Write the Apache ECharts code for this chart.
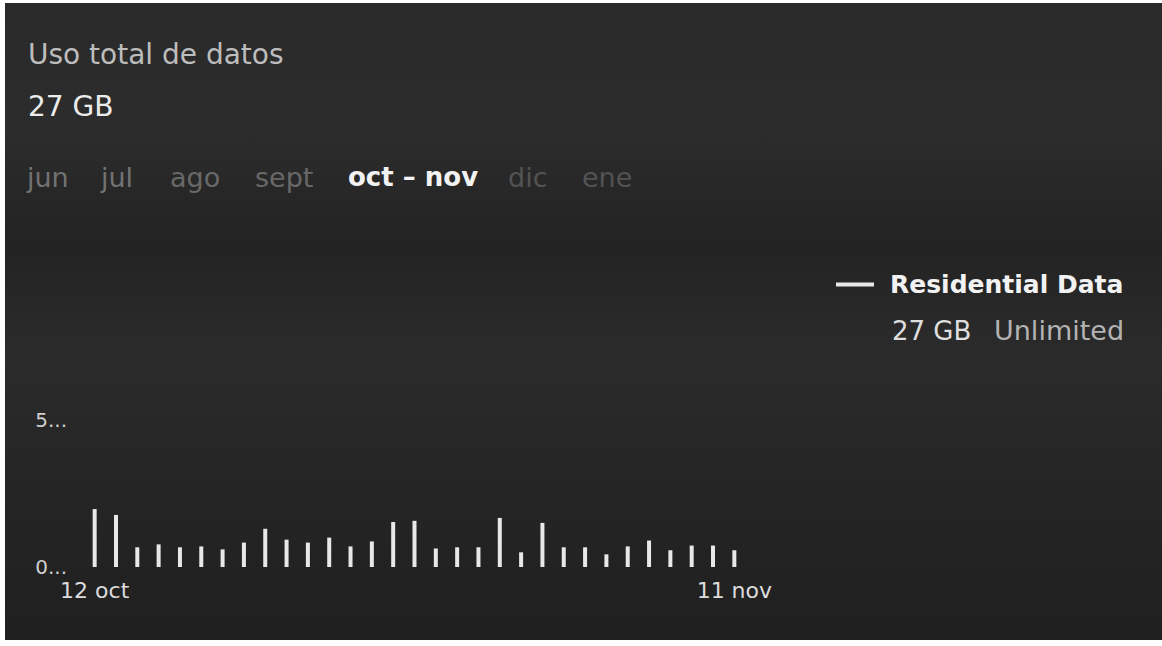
<!DOCTYPE html>
<html>
<head>
<meta charset="utf-8">
<script src="https://cdn.jsdelivr.net/npm/echarts@6/dist/echarts.min.js"></script>
<style>
  html, body { margin: 0; padding: 0; background: #ffffff; }
  #chart { width: 1162px; height: 646px; }
</style>
</head>
<body>
<div id="chart"></div>
<script>
// ---- data ----
const categories = [
  '12 oct','13 oct','14 oct','15 oct','16 oct','17 oct','18 oct','19 oct','20 oct','21 oct',
  '22 oct','23 oct','24 oct','25 oct','26 oct','27 oct','28 oct','29 oct','30 oct','31 oct',
  '1 nov','2 nov','3 nov','4 nov','5 nov','6 nov','7 nov','8 nov','9 nov','10 nov','11 nov'
];
const residentialData = [
  1.97, 1.77, 0.67, 0.77, 0.67, 0.70, 0.60, 0.83, 1.30, 0.93,
  0.83, 1.00, 0.70, 0.87, 1.53, 1.57, 0.63, 0.67, 0.67, 1.67,
  0.50, 1.50, 0.67, 0.67, 0.43, 0.70, 0.90, 0.57, 0.73, 0.73, 0.57
];
const yTickLabels = { 0: '0...', 5: '5...' };
const shownXLabels = ['12 oct', '11 nov'];
const monthTabs = ['jun', 'jul', 'ago', 'sept', 'oct – nov', 'dic', 'ene'];
const activeTab = 'oct – nov';
const titleText = 'Uso total de datos';
const totalText = '27 GB';
const seriesName = 'Residential Data';
const seriesTotal = '27 GB';
const seriesPlan = 'Unlimited';

// ---- layout / style ----
const FONT = 'DejaVu Sans';
const tabX = [27, 101, 170, 255, 348, 508, 582];
const tabColor = { 'jun': '#727272', 'jul': '#727272', 'ago': '#686868', 'sept': '#686868', 'dic': '#535353', 'ene': '#535353' };

const graphics = [
  {
    type: 'rect', z: -10, silent: true,
    shape: { x: 5, y: 3, width: 1157, height: 637 },
    style: {
      fill: {
        type: 'linear', x: 0, y: 0, x2: 0, y2: 1,
        colorStops: [
          { offset: 0.00, color: '#2a2a2a' },
          { offset: 0.20, color: '#2c2c2c' },
          { offset: 0.38, color: '#232323' },
          { offset: 0.55, color: '#2b2b2b' },
          { offset: 0.75, color: '#252525' },
          { offset: 1.00, color: '#202020' }
        ]
      }
    }
  },
  { type: 'text', left: 28, top: 40, style: { text: titleText, fill: '#bdbdbd', font: '28px "' + FONT + '"' } },
  { type: 'text', left: 28, top: 92, style: { text: totalText, fill: '#ececec', font: '28px "' + FONT + '"' } },
  { type: 'text', left: 892, top: 318, style: { text: seriesTotal, fill: '#dedede', font: '26px "' + FONT + '"' } },
  { type: 'text', left: 994, top: 317, style: { text: seriesPlan, fill: '#b3b3b3', font: '27px "' + FONT + '"' } }
];
monthTabs.forEach(function (m, i) {
  const active = m === activeTab;
  graphics.push({
    type: 'text', left: tabX[i], top: 164,
    style: {
      text: m,
      fill: active ? '#f2f2f2' : tabColor[m],
      font: (active ? 'bold 26px "' : '27px "') + FONT + '"'
    }
  });
});

const chart = echarts.init(document.getElementById('chart'), null, { renderer: 'svg' });
chart.setOption({
  backgroundColor: '#ffffff',
  animation: false,
  graphic: graphics,
  legend: {
    left: 836, top: 272, padding: 0,
    icon: 'rect', itemWidth: 38, itemHeight: 4,
    textStyle: { color: '#f2f2f2', fontFamily: FONT, fontWeight: 'bold', fontSize: 25, padding: [0, 0, 0, 11] },
    data: [seriesName]
  },
  grid: { left: 84, width: 661, top: 420, height: 147 },
  xAxis: {
    type: 'category',
    data: categories,
    axisLine: { show: false },
    axisTick: { show: false },
    axisLabel: {
      interval: function (i, v) { return shownXLabels.indexOf(v) >= 0; },
      color: '#dcdcdc', fontFamily: FONT, fontSize: 22, margin: 12
    }
  },
  yAxis: {
    type: 'value', min: 0, max: 5, interval: 5,
    splitLine: { show: false },
    axisLine: { show: false },
    axisTick: { show: false },
    axisLabel: {
      formatter: function (v) { return yTickLabels[v]; },
      color: '#cfcfcf', fontFamily: FONT, fontSize: 20, margin: 17
    }
  },
  series: [{
    name: seriesName,
    type: 'bar',
    data: residentialData,
    barWidth: 4,
    itemStyle: { color: '#e8e8e8' }
  }]
});
</script>
</body>
</html>
